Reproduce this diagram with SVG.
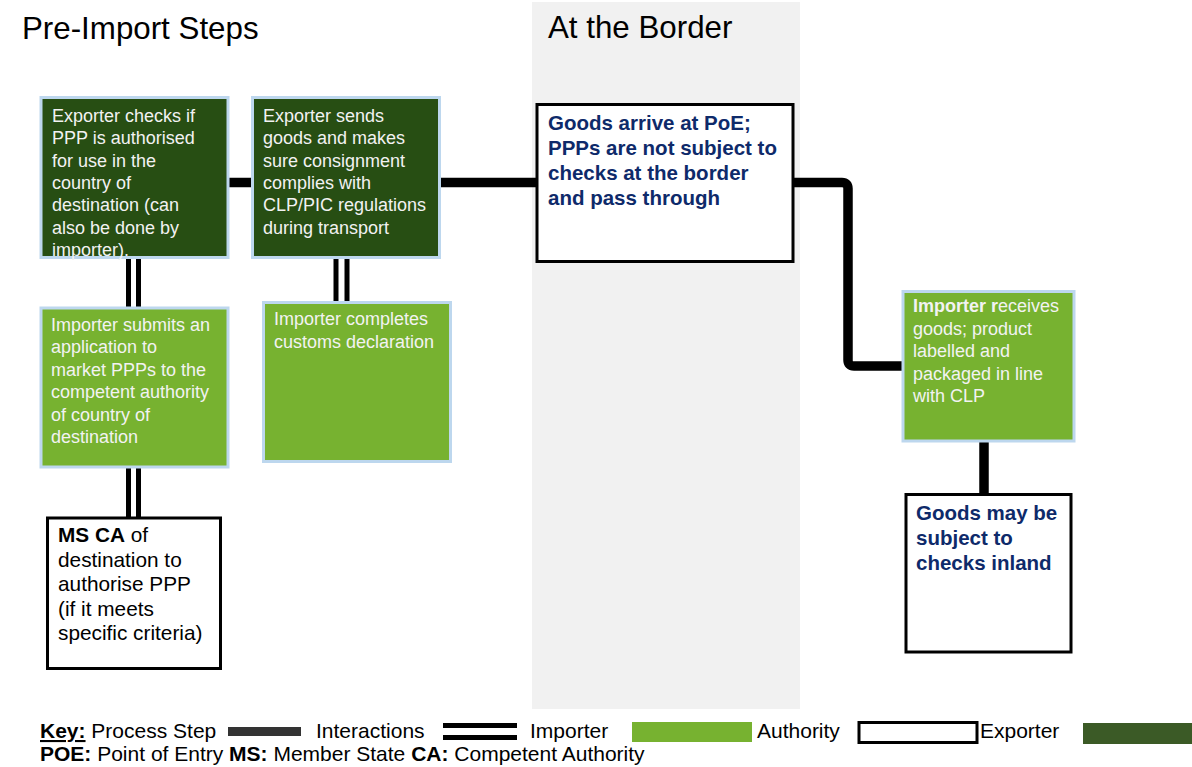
<svg xmlns="http://www.w3.org/2000/svg" width="1192" height="767" viewBox="0 0 1192 767">
<style>
text{font-family:"Liberation Sans",Arial,sans-serif}
.title{font-size:31.3px;fill:#000}
.exp{fill:#274e13;stroke:#bdd7ee;stroke-width:3}
.imp{fill:#77b230;stroke:#bdd7ee;stroke-width:3}
.auth{fill:#fff;stroke:#000;stroke-width:3}
.lt{font-size:18px;fill:#f2f2f2}
.nv{font-size:20.5px;font-weight:bold;fill:#0e2a6a}
.bk{font-size:20.8px;fill:#000}
.step{fill:none;stroke:#000;stroke-width:9.5;stroke-linejoin:round}
.inter{fill:none;stroke:#000;stroke-width:5}
.key{font-size:21px;fill:#000}
</style>
<rect x="532" y="2" width="268" height="707" fill="#f1f1f1"/>
<text class="title" x="22" y="39">Pre-Import Steps</text>
<text class="title" x="548" y="38">At the Border</text>

<g id="connectors">
<path class="step" d="M228,182.5 H252"/>
<path class="step" d="M440,182.5 H537"/>
<path class="step" d="M793,182.5 H842 Q848,182.5 848,188.5 V360 Q848,366 854,366 H903"/>
<path class="step" d="M984,441 V494"/>
<path class="inter" d="M128.5,258 V307 M138.5,258 V307"/>
<path class="inter" d="M336,257 V302 M347,257 V302"/>
<path class="inter" d="M128.5,467 V518 M138.5,467 V518"/>
</g>

<g id="exporter-checks">
<rect class="exp" x="41" y="97.5" width="187" height="160"/>
<text class="lt"><tspan x="52" y="122">Exporter checks if</tspan><tspan x="52" y="144.3">PPP is authorised</tspan><tspan x="52" y="166.6">for use in the</tspan><tspan x="52" y="188.9">country of</tspan><tspan x="52" y="211.2">destination (can</tspan><tspan x="52" y="233.5">also be done by</tspan><tspan x="52" y="255.8">importer).</tspan></text>
</g>

<g id="exporter-sends">
<rect class="exp" x="252.5" y="97.5" width="187" height="160"/>
<text class="lt"><tspan x="263" y="122">Exporter sends</tspan><tspan x="263" y="144.3">goods and makes</tspan><tspan x="263" y="166.6">sure consignment</tspan><tspan x="263" y="188.9">complies with</tspan><tspan x="263" y="211.2">CLP/PIC regulations</tspan><tspan x="263" y="233.5">during transport</tspan></text>
</g>

<g id="importer-submits">
<rect class="imp" x="41" y="308" width="187" height="159"/>
<text class="lt"><tspan x="51" y="331">Importer submits an</tspan><tspan x="51" y="353.4">application to</tspan><tspan x="51" y="375.8">market PPPs to the</tspan><tspan x="51" y="398.2">competent authority</tspan><tspan x="51" y="420.6">of country of</tspan><tspan x="51" y="443">destination</tspan></text>
</g>

<g id="importer-completes">
<rect class="imp" x="263.5" y="302.5" width="187" height="159"/>
<text class="lt"><tspan x="274" y="325">Importer completes</tspan><tspan x="274" y="347.5">customs declaration</tspan></text>
</g>

<g id="ms-ca">
<rect class="auth" x="47.5" y="518" width="173" height="150.5"/>
<text class="bk"><tspan x="58" y="542"><tspan font-weight="bold">MS CA</tspan> of</tspan><tspan x="58" y="566.5">destination to</tspan><tspan x="58" y="591">authorise PPP</tspan><tspan x="58" y="615.5">(if it meets</tspan><tspan x="58" y="640">specific criteria)</tspan></text>
</g>

<g id="goods-arrive">
<rect class="auth" x="537" y="104.5" width="256" height="157"/>
<text class="nv"><tspan x="548" y="130">Goods arrive at PoE;</tspan><tspan x="548" y="155">PPPs are not subject to</tspan><tspan x="548" y="180">checks at the border</tspan><tspan x="548" y="205">and pass through</tspan></text>
</g>

<g id="importer-receives">
<rect class="imp" x="903" y="291.5" width="171" height="149.5"/>
<text class="lt"><tspan x="913" y="312"><tspan font-weight="bold">Importer r</tspan>eceives</tspan><tspan x="913" y="334.5">goods; product</tspan><tspan x="913" y="357">labelled and</tspan><tspan x="913" y="379.5">packaged in line</tspan><tspan x="913" y="402">with CLP</tspan></text>
</g>

<g id="goods-may-be">
<rect class="auth" x="906" y="494.5" width="165" height="157.5"/>
<text class="nv"><tspan x="916" y="520">Goods may be</tspan><tspan x="916" y="545">subject to</tspan><tspan x="916" y="570">checks inland</tspan></text>
</g>

<g id="legend">
<text class="key" x="40" y="738"><tspan font-weight="bold" text-decoration="underline">Key:</tspan> Process Step</text>
<rect x="228" y="727" width="73" height="9" fill="#333"/>
<text class="key" x="316" y="738">Interactions</text>
<rect x="443" y="723" width="74" height="5" fill="#000"/>
<rect x="443" y="735" width="74" height="5" fill="#000"/>
<text class="key" x="530" y="738">Importer</text>
<rect x="632" y="722" width="120" height="20" fill="#77b230"/>
<text class="key" x="757" y="738">Authority</text>
<rect x="859" y="722.5" width="118" height="20" fill="#fff" stroke="#000" stroke-width="3"/>
<text class="key" x="980" y="738">Exporter</text>
<rect x="1083" y="723" width="109" height="21" fill="#3b5a26"/>
<text class="key" x="40" y="761"><tspan font-weight="bold">POE:</tspan> Point of Entry <tspan font-weight="bold">MS:</tspan> Member State <tspan font-weight="bold">CA:</tspan> Competent Authority</text>
</g>
</svg>
